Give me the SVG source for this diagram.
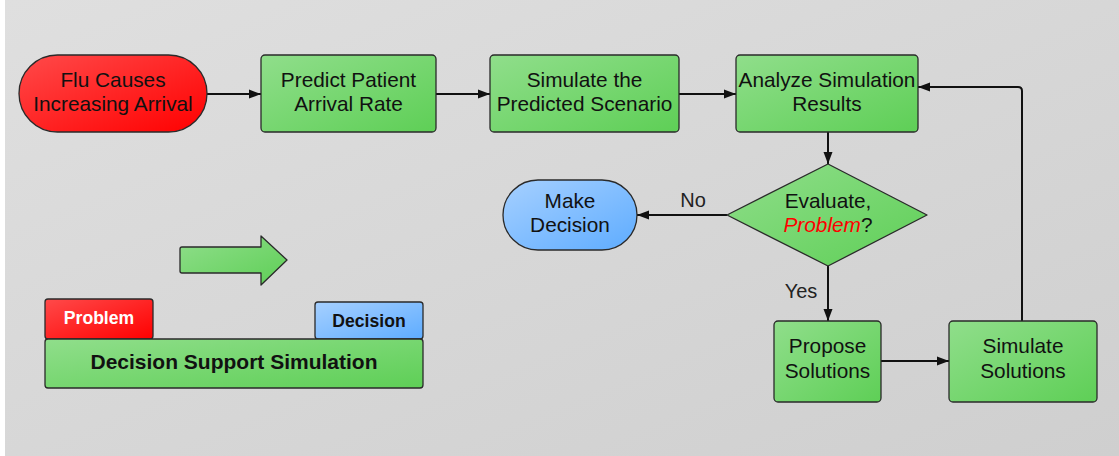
<svg xmlns="http://www.w3.org/2000/svg" width="1119" height="456" viewBox="0 0 1119 456">
  <defs>
    <linearGradient id="bg" x1="0" y1="0" x2="1" y2="1">
      <stop offset="0" stop-color="#dfdfdf"/>
      <stop offset="1" stop-color="#cfcfcf"/>
    </linearGradient>
    <linearGradient id="green" x1="0" y1="0" x2="1" y2="1">
      <stop offset="0" stop-color="#90de8b"/>
      <stop offset="1" stop-color="#5ecf56"/>
    </linearGradient>
    <linearGradient id="red" x1="0" y1="0" x2="1" y2="1">
      <stop offset="0" stop-color="#ff4a4a"/>
      <stop offset="1" stop-color="#ff0000"/>
    </linearGradient>
    <linearGradient id="blue" x1="0" y1="0" x2="1" y2="1">
      <stop offset="0" stop-color="#a6d0ff"/>
      <stop offset="1" stop-color="#5eacff"/>
    </linearGradient>
    <marker id="arrow" viewBox="0 0 12 10" refX="12" refY="5" markerWidth="12" markerHeight="10" markerUnits="userSpaceOnUse" orient="auto">
      <path d="M0,0.5 L12,5 L0,9.5 z" fill="#111"/>
    </marker>
    <style>
      .box { stroke: #2a2a2a; stroke-width: 1.3; }
      .g { fill: url(#green); }
      .r { fill: url(#red); }
      .b { fill: url(#blue); }
      .t { font-family: "Liberation Sans", Arial, sans-serif; font-size: 20.8px; fill: #111; text-anchor: middle; }
      .bold { font-weight: bold; }
      .conn { stroke: #111; stroke-width: 2; fill: none; }
      .lbl { font-family: "Liberation Sans", Arial, sans-serif; font-size: 20px; fill: #222; text-anchor: middle; }
    </style>
  </defs>

  <!-- page background -->
  <rect x="0" y="0" width="1119" height="456" fill="#ffffff"/>
  <rect x="5" y="0" width="1114" height="456" fill="url(#bg)"/>

  <!-- connectors -->
  <g id="connectors">
    <line class="conn" x1="207" y1="94" x2="261" y2="94" marker-end="url(#arrow)"/>
    <line class="conn" x1="436" y1="94" x2="490" y2="94" marker-end="url(#arrow)"/>
    <line class="conn" x1="679" y1="94" x2="736" y2="94" marker-end="url(#arrow)"/>
    <line class="conn" x1="828" y1="132" x2="828" y2="164" marker-end="url(#arrow)"/>
    <line class="conn" x1="727" y1="215" x2="637" y2="215" marker-end="url(#arrow)"/>
    <line class="conn" x1="828" y1="266" x2="828" y2="321" marker-end="url(#arrow)"/>
    <line class="conn" x1="881" y1="361" x2="949" y2="361" marker-end="url(#arrow)"/>
    <path class="conn" d="M1022,321 V91 Q1022,87 1018,87 H918" marker-end="url(#arrow)"/>
    <text class="lbl" x="693" y="207">No</text>
    <text class="lbl" x="801" y="298">Yes</text>
  </g>

  <g id="flu">
    <rect class="box r" x="19" y="55" width="188" height="77" rx="38.5"/>
    <text class="t" x="113" y="87">Flu Causes</text>
    <text class="t" x="113" y="111">Increasing Arrival</text>
  </g>

  <g id="predict">
    <rect class="box g" x="261" y="55" width="175" height="77" rx="4"/>
    <text class="t" x="348.5" y="87">Predict Patient</text>
    <text class="t" x="348.5" y="111">Arrival Rate</text>
  </g>

  <g id="simulate-scenario">
    <rect class="box g" x="490" y="55" width="189" height="77" rx="4"/>
    <text class="t" x="584.5" y="87">Simulate the</text>
    <text class="t" x="584.5" y="111">Predicted Scenario</text>
  </g>

  <g id="analyze">
    <rect class="box g" x="736" y="55" width="182" height="77" rx="4"/>
    <text class="t" x="827" y="87">Analyze Simulation</text>
    <text class="t" x="827" y="111">Results</text>
  </g>

  <g id="evaluate">
    <path class="box g" d="M828,164 L927,215 L828,266 L727,215 Z" stroke-linejoin="round"/>
    <text class="t" x="828" y="208">Evaluate,</text>
    <text class="t" x="828" y="232"><tspan fill="#ff0000" font-style="italic">Problem</tspan>?</text>
  </g>

  <g id="make-decision">
    <rect class="box b" x="503" y="180" width="134" height="70" rx="35"/>
    <text class="t" x="570" y="208">Make</text>
    <text class="t" x="570" y="232">Decision</text>
  </g>

  <g id="propose">
    <rect class="box g" x="774" y="321" width="107" height="81" rx="4"/>
    <text class="t" x="827.5" y="353">Propose</text>
    <text class="t" x="827.5" y="378">Solutions</text>
  </g>

  <g id="simulate-solutions">
    <rect class="box g" x="949" y="321" width="148" height="81" rx="4"/>
    <text class="t" x="1023" y="353">Simulate</text>
    <text class="t" x="1023" y="378">Solutions</text>
  </g>

  <!-- legend -->
  <g id="legend-arrow">
    <path class="box g" d="M182,247 H261 V236 L287,260 L261,285 V273 H182 Q180,273 180,271 V249 Q180,247 182,247 Z" stroke-linejoin="round"/>
  </g>

  <g id="legend-problem">
    <rect class="box r" x="45" y="299" width="108" height="40" rx="3"/>
    <text class="t bold" x="99" y="324" style="font-size:17.6px; fill:#ffffff">Problem</text>
  </g>

  <g id="legend-decision">
    <rect class="box b" x="315" y="302" width="108" height="37" rx="3"/>
    <text class="t bold" x="369" y="327" style="font-size:17.6px">Decision</text>
  </g>

  <g id="legend-dss">
    <rect class="box g" x="45" y="339" width="378" height="49" rx="3"/>
    <text class="t bold" x="234" y="369" style="font-size:21px">Decision Support Simulation</text>
  </g>
</svg>
